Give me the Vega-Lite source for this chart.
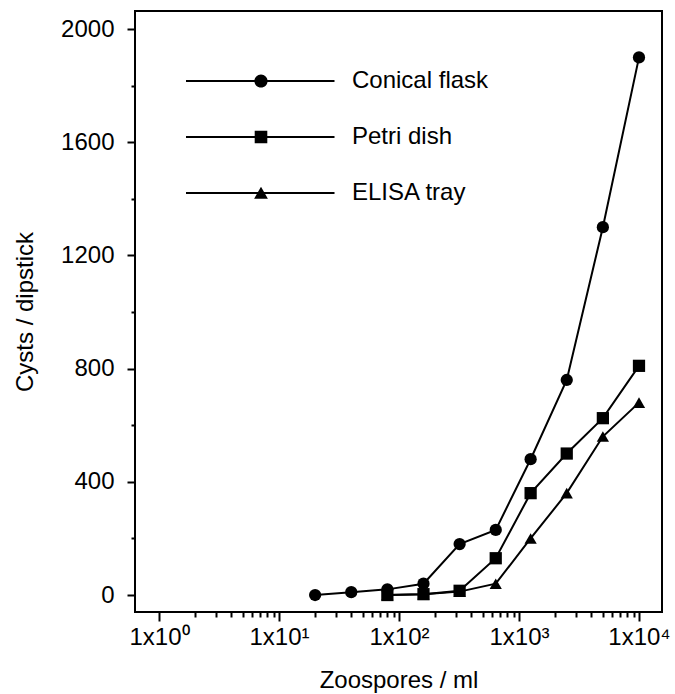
{
  "$schema": "https://vega.github.io/schema/vega-lite/v6.json",
  "width": 527,
  "height": 601,
  "autosize": {"type": "none"},
  "padding": {"left": 135, "top": 11, "right": 13, "bottom": 82},
  "background": "white",
  "config": {
    "view": {"stroke": "black", "strokeWidth": 2},
    "font": "Liberation Sans",
    "axis": {
      "grid": false,
      "domain": false,
      "tickColor": "black",
      "tickWidth": 2,
      "labelColor": "black",
      "titleColor": "black",
      "labelFont": "Liberation Sans",
      "titleFont": "Liberation Sans",
      "labelFontSize": 24,
      "titleFontSize": 24,
      "titleFontWeight": "normal"
    }
  },
  "data": {
    "values": [
      {"series": "ELISA tray", "zoospores": 80, "cysts": 0},
      {"series": "ELISA tray", "zoospores": 160, "cysts": 3},
      {"series": "ELISA tray", "zoospores": 320, "cysts": 12},
      {"series": "ELISA tray", "zoospores": 640, "cysts": 40},
      {"series": "ELISA tray", "zoospores": 1250, "cysts": 200},
      {"series": "ELISA tray", "zoospores": 2500, "cysts": 360},
      {"series": "ELISA tray", "zoospores": 5000, "cysts": 560},
      {"series": "ELISA tray", "zoospores": 10000, "cysts": 680},
      {"series": "Petri dish", "zoospores": 80, "cysts": 0},
      {"series": "Petri dish", "zoospores": 160, "cysts": 3},
      {"series": "Petri dish", "zoospores": 320, "cysts": 15},
      {"series": "Petri dish", "zoospores": 640, "cysts": 130},
      {"series": "Petri dish", "zoospores": 1250, "cysts": 360},
      {"series": "Petri dish", "zoospores": 2500, "cysts": 500},
      {"series": "Petri dish", "zoospores": 5000, "cysts": 625},
      {"series": "Petri dish", "zoospores": 10000, "cysts": 810},
      {"series": "Conical flask", "zoospores": 20, "cysts": 0},
      {"series": "Conical flask", "zoospores": 40, "cysts": 10},
      {"series": "Conical flask", "zoospores": 80, "cysts": 20},
      {"series": "Conical flask", "zoospores": 160, "cysts": 40},
      {"series": "Conical flask", "zoospores": 320, "cysts": 180},
      {"series": "Conical flask", "zoospores": 640, "cysts": 230},
      {"series": "Conical flask", "zoospores": 1250, "cysts": 480},
      {"series": "Conical flask", "zoospores": 2500, "cysts": 760},
      {"series": "Conical flask", "zoospores": 5000, "cysts": 1300},
      {"series": "Conical flask", "zoospores": 10000, "cysts": 1900}
    ]
  },
  "layer": [
    {
      "mark": {"type": "line", "color": "black", "strokeWidth": 2},
      "encoding": {
        "x": {
          "field": "zoospores",
          "type": "quantitative",
          "scale": {"type": "log", "domain": [0.631, 15550], "nice": false},
          "axis": {
            "orient": "bottom",
            "values": [2, 3, 4, 5, 6, 7, 8, 9, 20, 30, 40, 50, 60, 70, 80, 90, 200, 300, 400, 500, 600, 700, 800, 900, 2000, 3000, 4000, 5000, 6000, 7000, 8000, 9000],
            "labels": false,
            "tickSize": 5,
            "title": null
          }
        },
        "y": {
          "field": "cysts",
          "type": "quantitative",
          "scale": {"domain": [-60, 2064], "nice": false, "zero": false},
          "axis": {
            "orient": "left",
            "values": [200, 600, 1000, 1400, 1800],
            "labels": false,
            "tickSize": 4,
            "title": null
          }
        },
        "detail": {"field": "series", "type": "nominal"}
      }
    },
    {
      "transform": [{"filter": "datum.series === 'ELISA tray'"}],
      "mark": {"type": "point", "shape": "triangle-up", "filled": true, "color": "black", "size": 150, "opacity": 1},
      "encoding": {
        "x": {"field": "zoospores", "type": "quantitative", "axis": null},
        "y": {"field": "cysts", "type": "quantitative", "axis": null}
      }
    },
    {
      "transform": [{"filter": "datum.series === 'Petri dish'"}],
      "mark": {"type": "point", "shape": "square", "filled": true, "color": "black", "size": 150, "opacity": 1},
      "encoding": {
        "x": {"field": "zoospores", "type": "quantitative", "axis": null},
        "y": {"field": "cysts", "type": "quantitative", "axis": null}
      }
    },
    {
      "transform": [{"filter": "datum.series === 'Conical flask'"}],
      "mark": {"type": "point", "shape": "circle", "filled": true, "color": "black", "size": 150, "opacity": 1},
      "encoding": {
        "x": {"field": "zoospores", "type": "quantitative", "axis": null},
        "y": {"field": "cysts", "type": "quantitative", "axis": null}
      }
    },
    {
      "mark": {"type": "point", "filled": true, "color": "black", "stroke": "black", "strokeWidth": 2, "size": 144, "opacity": 0},
      "encoding": {
        "x": {
          "field": "zoospores",
          "type": "quantitative",
          "scale": {"type": "log", "domain": [0.631, 15550], "nice": false},
          "axis": {
            "orient": "bottom",
            "values": [1, 10, 100, 1000, 10000],
            "tickSize": 9,
            "labelPadding": 4,
            "labelExpr": "'1x10' + ['⁰','¹','²','³','⁴'][round(log(datum.value)/LN10)]",
            "title": "Zoospores / ml",
            "titlePadding": 19
          }
        },
        "y": {
          "field": "cysts",
          "type": "quantitative",
          "scale": {"domain": [-60, 2064], "nice": false, "zero": false},
          "axis": {
            "orient": "left",
            "values": [0, 400, 800, 1200, 1600, 2000],
            "format": "d",
            "tickSize": 8,
            "labelPadding": 13,
            "title": "Cysts / dipstick",
            "titlePadding": 23
          }
        },
        "shape": {
          "field": "series",
          "type": "nominal",
          "scale": {
            "domain": ["Conical flask", "Petri dish", "ELISA tray"],
            "range": [
              "M-12.5,-0.17H12.25V0.17H-12.5ZM1.1,0A1.1,1.1,0,1,1,-1.1,0A1.1,1.1,0,1,1,1.1,0Z",
              "M-12.5,-0.17H12.25V0.17H-12.5ZM-1.05,-1.05H1.05V1.05H-1.05Z",
              "M-12.5,-0.17H12.25V0.17H-12.5ZM0,-1.05L1.15,0.95H-1.15Z"
            ]
          },
          "legend": {
            "orient": "none",
            "legendX": 114,
            "legendY": 58,
            "title": null,
            "padding": 0,
            "symbolSize": 144,
            "symbolOpacity": 1,
            "symbolStrokeWidth": 2,
            "symbolStrokeColor": "black",
            "symbolFillColor": "black",
            "labelFont": "Liberation Sans",
            "labelFontSize": 24,
            "labelColor": "black",
            "labelOffset": 79,
            "rowPadding": 32,
            "encode": {
              "symbols": {
                "fill": {"value": "black"},
                "stroke": {"value": "black"},
                "strokeWidth": {"value": 2},
                "opacity": {"value": 1}
              }
            }
          }
        }
      }
    }
  ],
  "resolve": {"axis": {"x": "independent", "y": "independent"}}
}
